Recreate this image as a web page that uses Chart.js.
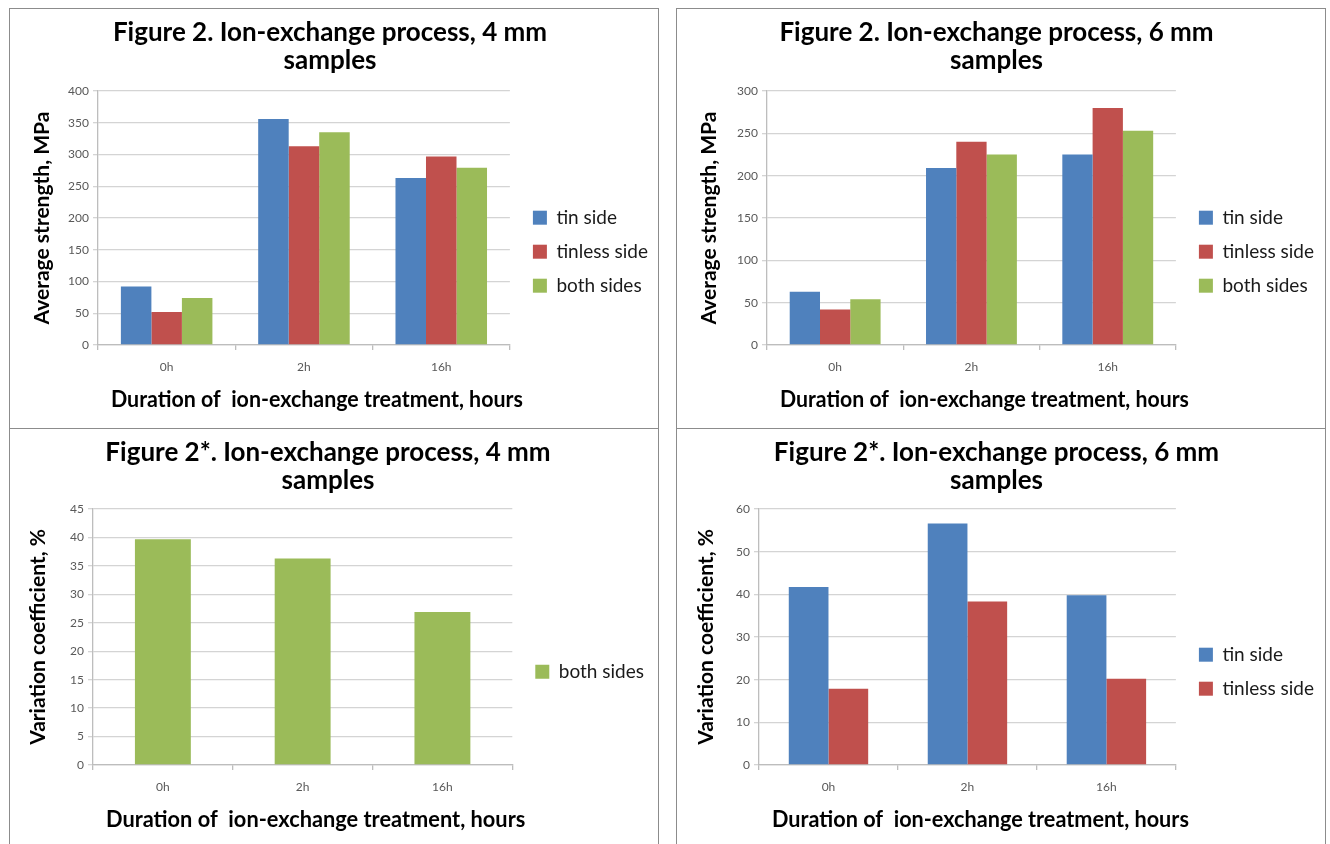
<!DOCTYPE html>
<html>
<head>
<meta charset="utf-8">
<script src="https://cdn.jsdelivr.net/npm/chart.js@4"></script>
<style>
  html, body { margin: 0; padding: 0; background: #fff; }
  body { width: 1330px; height: 844px; position: relative; overflow: hidden; }
  .frame { position: absolute; box-sizing: border-box; border: 1.5px solid #8c8c8c; }
  canvas { position: absolute; }
</style>
</head>
<body>
<div class="frame" style="left:9px;top:8px;width:650px;height:421px;"></div>
<div class="frame" style="left:676px;top:8px;width:650px;height:421px;"></div>
<div class="frame" style="left:9px;top:428px;width:650px;height:430px;"></div>
<div class="frame" style="left:676px;top:428px;width:650px;height:430px;"></div>
<canvas id="c1" width="648" height="420" style="left:10px;top:9px;"></canvas>
<canvas id="c2" width="648" height="420" style="left:677px;top:9px;"></canvas>
<canvas id="c3" width="648" height="420" style="left:10px;top:429px;"></canvas>
<canvas id="c4" width="648" height="420" style="left:677px;top:429px;"></canvas>
<script>
// Treatment durations on the category axis
const durations = ['0h', '2h', '16h'];

// Average strength, MPa — 4 mm samples
const tinStrength4mm = [92, 356, 263];
const tinlessStrength4mm = [52, 313, 297];
const bothStrength4mm = [74, 335, 279];

// Average strength, MPa — 6 mm samples
const tinStrength6mm = [63, 209, 225];
const tinlessStrength6mm = [42, 240, 280];
const bothStrength6mm = [54, 225, 253];

// Variation coefficient, % — 4 mm samples
const bothVariation4mm = [39.7, 36.3, 26.9];

// Variation coefficient, % — 6 mm samples
const tinVariation6mm = [41.7, 56.6, 39.8];
const tinlessVariation6mm = [17.9, 38.3, 20.2];

// Titles and axis labels
const strengthTitle4 = ['Figure 2. Ion-exchange process, 4 mm', 'samples'];
const strengthTitle6 = ['Figure 2. Ion-exchange process, 6 mm', 'samples'];
const variationTitle4 = ['Figure 2*. Ion-exchange process, 4 mm', 'samples'];
const variationTitle6 = ['Figure 2*. Ion-exchange process, 6 mm', 'samples'];
const xAxisLabel = 'Duration of  ion-exchange treatment, hours';
const strengthAxisLabel = 'Average strength, MPa';
const variationAxisLabel = 'Variation coefficient, %';
const seriesNames = { tin: 'tin side', tinless: 'tinless side', both: 'both sides' };

const COLORS = { tin: '#4F81BD', tinless: '#C0504D', both: '#9BBB59' };
const FONT = 'Lato, "Open Sans", sans-serif';

// Nudges the legend a little away from the plot and the x-axis title to the right,
// the way the spreadsheet layout places them.
const nudgePlugin = {
  id: 'nudge',
  afterLayout(chart) {
    if (chart.legend) { chart.legend.left += 8; chart.legend.right += 8; }
    const x = chart.scales.x;
    if (x && !x._nudged) {
      const orig = x.drawTitle.bind(x);
      x.drawTitle = function () {
        const ctx = this.ctx;
        ctx.save();
        ctx.translate(13, 0);
        orig();
        ctx.restore();
      };
      x._nudged = true;
    }
  }
};

function series(key, values) {
  return { label: seriesNames[key], data: values, backgroundColor: COLORS[key], borderWidth: 0 };
}

function buildChart(id, o) {
  const n = o.datasets.length;
  return new Chart(document.getElementById(id), {
    type: 'bar',
    data: { labels: durations, datasets: o.datasets },
    plugins: [nudgePlugin],
    options: {
      responsive: false,
      animation: false,
      events: [],
      layout: { padding: { top: 0, left: 0, bottom: 0, right: o.padRight } },
      datasets: { bar: { categoryPercentage: n / (n + 1.5), barPercentage: 1 } },
      plugins: {
        tooltip: { enabled: false },
        title: {
          display: true,
          text: o.title,
          color: '#000',
          font: { family: FONT, size: 26, weight: 'bold', lineHeight: '28px' },
          padding: { top: 10, bottom: o.titleGap }
        },
        legend: {
          position: 'right',
          align: 'center',
          title: { display: true, text: ' ', font: { size: 12 }, padding: { top: 0, bottom: 51 } },
          labels: {
            boxWidth: 14, boxHeight: 14, padding: 15,
            color: '#1a1a1a',
            font: { family: FONT, size: 19 }
          }
        }
      },
      scales: {
        x: {
          afterFit: s => { s.height = 84; },
          grid: { display: true, drawOnChartArea: false, drawTicks: true, tickLength: 5, offset: true, color: '#bdbdbd', lineWidth: 1.3 },
          border: { display: true, color: '#bdbdbd', width: 1.3 },
          ticks: { color: '#595959', padding: 10, font: { family: FONT, size: 12 } },
          title: { display: true, text: xAxisLabel, color: '#000', font: { family: FONT, size: 23, weight: 'bold' }, padding: { top: 0, bottom: 16 } }
        },
        y: {
          min: 0, max: o.max,
          afterFit: s => { s.width = o.yWidth; },
          grid: { color: '#d4d4d4', lineWidth: 1.3, tickLength: 5, drawTicks: true },
          border: { display: true, color: '#bdbdbd', width: 1.3 },
          ticks: { stepSize: o.step, color: '#595959', padding: 4, font: { family: FONT, size: 12 } },
          title: { display: true, text: o.yLabel, color: '#000', font: { family: FONT, size: 21, weight: 'bold' }, padding: { top: o.yTitlePad, bottom: 0 } }
        }
      }
    }
  });
}

buildChart('c1', {
  title: strengthTitle4, yLabel: strengthAxisLabel, max: 400, step: 50,
  yWidth: 88, yTitlePad: 20, titleGap: 16, padRight: 8,
  datasets: [series('tin', tinStrength4mm), series('tinless', tinlessStrength4mm), series('both', bothStrength4mm)]
});
buildChart('c2', {
  title: strengthTitle6, yLabel: strengthAxisLabel, max: 300, step: 50,
  yWidth: 90, yTitlePad: 20, titleGap: 16, padRight: 9,
  datasets: [series('tin', tinStrength6mm), series('tinless', tinlessStrength6mm), series('both', bothStrength6mm)]
});
buildChart('c3', {
  title: variationTitle4, yLabel: variationAxisLabel, max: 45, step: 5,
  yWidth: 83, yTitlePad: 16, titleGap: 14, padRight: 12,
  datasets: [series('both', bothVariation4mm)]
});
buildChart('c4', {
  title: variationTitle6, yLabel: variationAxisLabel, max: 60, step: 10,
  yWidth: 82, yTitlePad: 17, titleGap: 14, padRight: 9,
  datasets: [series('tin', tinVariation6mm), series('tinless', tinlessVariation6mm)]
});
</script>
</body>
</html>
